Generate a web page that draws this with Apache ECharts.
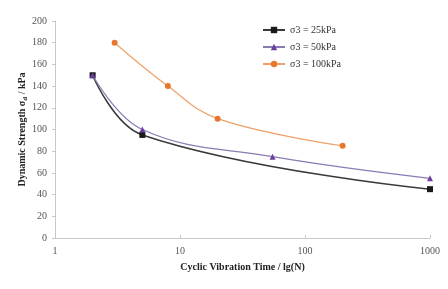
<!DOCTYPE html>
<html>
<head>
<meta charset="utf-8">
<script src="https://cdn.jsdelivr.net/npm/echarts@6/dist/echarts.min.js"></script>
<style>
html,body{margin:0;padding:0;background:#fff;}
#main{width:448px;height:289px;}
</style>
</head>
<body>
<div id="main"></div>
<script>
// 数据
var seriesNames = ['σ3 = 25kPa', 'σ3 = 50kPa', 'σ3 = 100kPa'];
var cycles25 = [2, 5, 1000];
var strength25 = [150, 95, 45];
var cycles50 = [2, 5, 55, 1000];
var strength50 = [150, 100, 75, 55];
var cycles100 = [3, 8, 20, 200];
var strength100 = [180, 140, 110, 85];
var yTicks = [0, 20, 40, 60, 80, 100, 120, 140, 160, 180, 200];

function pairs(xs, ys){
	var arr = [];
	for (var i = 0; i < xs.length; i++){
		arr.push([xs[i], ys[i]]);
	}
	return arr;
}

var myChart = echarts.init(document.getElementById('main'));
var font = '"Liberation Serif", "Times New Roman", serif';
var option = {
	animation: false,
	textStyle: {fontFamily: font},
	grid: {
		left: 55,
		right: 18,
		top: 21,
		bottom: 51
	},
	legend: {
		orient: 'vertical',
		left: 257,
		top: 20,
		itemGap: 7,
		itemWidth: 22,
		itemHeight: 8,
		textStyle: {fontFamily: font, fontSize: 10, color: '#333'},
		data: seriesNames
	},
	xAxis: {
		type: 'log',
		logBase: 10,
		min: 1,
		max: 1000,
		name: 'Cyclic Vibration Time / lg(N)',
		nameLocation: 'middle',
		nameGap: 24,
		nameMoveOverlap: false,
		nameTextStyle: {fontFamily: font, fontSize: 10, fontWeight: 'bold', color: '#222'},
		axisLine: {lineStyle: {color: '#c8c8c8'}},
		axisTick: {show: true, inside: true, length: 3, lineStyle: {color: '#c8c8c8'}},
		axisLabel: {
			fontFamily: font, fontSize: 10, color: '#555', margin: 8, showMaxLabel: true,
			formatter: function(value){ return String(Math.round(value)); }
		},
		splitLine: {show: false},
		minorTick: {show: false}
	},
	yAxis: {
		type: 'value',
		min: yTicks[0],
		max: yTicks[yTicks.length - 1],
		interval: 20,
		name: '{b|Dynamic Strength σ}{s|d}{b| / kPa}',
		nameLocation: 'middle',
		nameGap: 26,
		nameMoveOverlap: false,
		nameRotate: 90,
		nameTextStyle: {
			rich: {
				b: {fontFamily: font, fontSize: 10, fontWeight: 'bold', color: '#222'},
				s: {fontFamily: font, fontSize: 7, fontWeight: 'bold', color: '#222', verticalAlign: 'bottom', padding: [6, 0, 0, 0]}
			}
		},
		axisLine: {show: true, lineStyle: {color: '#c8c8c8'}},
		axisTick: {show: true, length: 3, lineStyle: {color: '#c8c8c8'}},
		axisLabel: {fontFamily: font, fontSize: 10, color: '#555', margin: 8},
		splitLine: {show: false}
	},
	series: [
		{
			name: seriesNames[0],
			type: 'line',
			smooth: 0.4,
			symbol: 'rect',
			symbolSize: 6,
			color: '#2b2b2b',
			lineStyle: {width: 1.5, color: '#3a3a3a'},
			itemStyle: {color: '#1a1a1a'},
			data: pairs(cycles25, strength25)
		},
		{
			name: seriesNames[1],
			type: 'line',
			smooth: 0.4,
			symbol: 'triangle',
			symbolSize: 6,
			color: '#6a3fa0',
			lineStyle: {width: 1.2, color: '#8a7bb5'},
			itemStyle: {color: '#6a3fa0'},
			data: pairs(cycles50, strength50)
		},
		{
			name: seriesNames[2],
			type: 'line',
			smooth: 0.4,
			symbol: 'circle',
			symbolSize: 6,
			color: '#e8772e',
			lineStyle: {width: 1.2, color: '#eda06a'},
			itemStyle: {color: '#e8772e'},
			data: pairs(cycles100, strength100)
		}
	]
};
myChart.setOption(option, true);
</script>
</body>
</html>
